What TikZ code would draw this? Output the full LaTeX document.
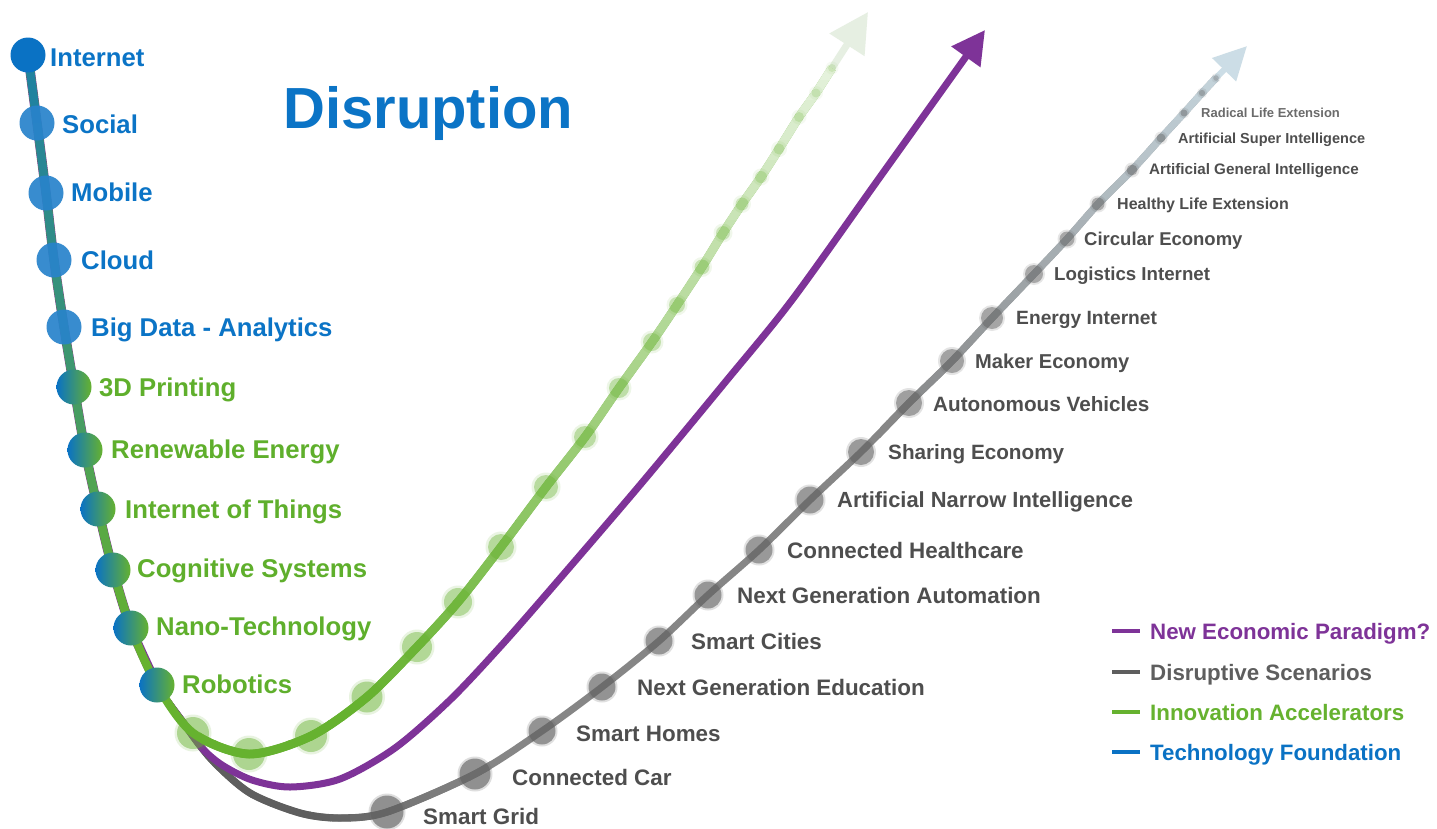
\documentclass[tikz,border=0pt]{standalone}
\usepackage{fontspec}
\setmainfont{Liberation Sans}
\usetikzlibrary{arrows.meta}

\definecolor{techblue}{HTML}{0A72C4}
\definecolor{accgreen}{HTML}{66B22F}
\definecolor{paradigm}{HTML}{7E3398}
\definecolor{scengray}{HTML}{5E5E5E}
\definecolor{midgray}{HTML}{868686}
\definecolor{paleblue}{HTML}{CCDDE6}
\definecolor{greenhead}{HTML}{E6EFE2}
\definecolor{labelgray}{HTML}{4E4E4E}
\definecolor{labelblue}{HTML}{0B74C6}
\definecolor{labelgreen}{HTML}{5FAF2C}

\tikzset{
  lab/.style={anchor=base west, inner sep=0pt},
  foundlab/.style={lab, font=\bfseries\fontsize{25.7}{26}\selectfont},
  scenlab/.style={lab, text=labelgray},
  leglab/.style={lab, font=\bfseries\fontsize{22.3}{23}\selectfont},
}

% the three curves, all through the foundation dots
\newcommand\trunkpts{(inet) (social) (mobile) (cloud) (bigdata) (print) (renew) (iot) (cogn) (nano) (robot)}
\newcommand\greenpath{plot[smooth] coordinates {(inet) (social) (mobile) (cloud) (bigdata) (print) (renew) (iot) (cogn) (nano) (robot) (g1) (g2) (g3) (g4) (g5) (g6) (g7) (g8) (g9) (g10) (g11) (g12) (g13) (g14) (g15) (g16) (g17) (g18) (g19) (g20)}}
\newcommand\graypath{plot[smooth] coordinates {(inet) (social) (mobile) (cloud) (bigdata) (print) (renew) (iot) (cogn) (nano) (robot) (q1) (q2) (q3) (q4) (q5) (grid) (car) (homes) (edu) (cities) (autom) (health) (narrow) (sharing) (autonomous) (maker) (energy) (logist) (circ) (healthy) (agi) (asi) (radical) (q6) (q7)}}

% name/x/y/radius/opacity
\newcommand\greendots{g1/193/733/16/.45, g2/249/754/16/.45, g3/311/736/16/.45, g4/367/697/15.5/.45, g5/417/647/15/.42, g6/458/602/14/.4, g7/501/547/13/.4, g8/546/487/12/.38, g9/585/437/11/.36, g10/619/388/10/.34, g11/652/342/9/.32, g12/677/305/8/.3, g13/702/267/7.5/.3, g14/723/233/7/.28, g15/742/204/6.5/.26, g16/761/177/6/.24, g17/779/149/5.5/.22, g18/799/117/5/.2, g19/816/93/4.5/.18, g20/832/68/4/.16}
\newcommand\graydots{grid/387/812/16.5/.62, car/475/774/15.5/.62, homes/542/731/13.5/.6, edu/602/687/13.5/.6, cities/659/641/13.5/.58, autom/708/595/13.5/.58, health/759/550/13.5/.56, narrow/810/500/13.5/.56, sharing/861/452/13/.55, autonomous/909/403/13/.52, maker/952/361/12/.5, energy/992/318/11/.48, logist/1034/274/9/.46, circ/1067/239/7.5/.46, healthy/1098/204/6.5/.45, agi/1132/170/5.5/.45, asi/1161/138/4.5/.42, radical/1184/113/3.5/.4, q6/1202/93/3.2/.35, q7/1216/78/2.8/.3}

\begin{document}
\begin{tikzpicture}[x=1pt,y=-1pt]
\useasboundingbox (0,0) rectangle (1437,828);
\fill[white] (0,0) rectangle (1437,828);

\foreach \nm/\x/\y in {inet/28/55, social/37/123, mobile/46/193, cloud/54/260, bigdata/64/327, print/74/387, renew/85/450, iot/98/509, cogn/113/570, nano/131/628, robot/157/685}
  \coordinate (\nm) at (\x,\y);
\foreach \nm/\x/\y/\r/\o in \greendots
  \coordinate (\nm) at (\x,\y);
\foreach \nm/\x/\y/\r/\o in \graydots
  \coordinate (\nm) at (\x,\y);
\foreach \nm/\x/\y in {q1/185/725, q2/212/760, q3/250/793, q4/300/813, q5/340/818, p1/183/722, p2/202/748, p3/222/765, p4/252/780, p5/290/787, p6/340/779, p7/395/748, p8/450/700, p9/500/647, p10/550/590, p11/640/485, p12/727/380, p13/792/300, p14/880/177}
  \coordinate (\nm) at (\x,\y);
\coordinate (gtip) at (868,12);
\coordinate (ptip) at (985,30);
\coordinate (qtip) at (1247,46);

% disruptive scenarios
\draw[midgray, line width=7] \graypath;
\foreach \xb in {170,190,...,470} {
  \pgfmathsetmacro\dp{max(0,min(100,(470-\xb)/1.7))}
  \begin{scope}
    \clip (\xb,700) rectangle ({\xb+20.6},828);
    \draw[scengray!\dp!midgray, line width=7.3] \graypath;
  \end{scope}
}
\foreach \yb in {20,40,...,420} {
  \pgfmathsetmacro\dp{max(0,min(100,(\yb-30)/3.8))}
  \begin{scope}
    \clip (880,\yb) rectangle (1437,{\yb+20.6});
    \draw[midgray!\dp!paleblue, line width=7.3] \graypath;
  \end{scope}
}
\draw[paleblue, line width=6, -{Triangle[length=33pt,width=32pt]}] (q7) -- (qtip);

% new economic paradigm
\draw[paradigm, line width=9.5] plot[smooth] coordinates {\trunkpts};
\draw[paradigm, line width=7, -{Triangle[length=33pt,width=34pt]}] plot[smooth] coordinates {(inet) (social) (mobile) (cloud) (bigdata) (print) (renew) (iot) (cogn) (nano) (robot) (p1) (p2) (p3) (p4) (p5) (p6) (p7) (p8) (p9) (p10) (p11) (p12) (p13) (p14) (ptip)};

% innovation accelerators
\draw[accgreen, line width=8.5] \greenpath;
\foreach \yb in {0,20,...,740} {
  \pgfmathsetmacro\gp{max(12,min(100,100-(700-\yb)*0.13))}
  \begin{scope}
    \clip (200,\yb) rectangle (1437,{\yb+20.6});
    \draw[accgreen!\gp!white, line width=8.8] \greenpath;
  \end{scope}
}
\draw[greenhead, line width=7, -{Triangle[length=39pt,width=40pt]}] (g20) -- (gtip);

% technology foundation over the trunk
\foreach \ya/\yb/\o in {55/123/75, 123/193/68, 193/260/60, 260/327/52, 327/387/44, 387/450/34, 450/509/24, 509/570/14, 570/628/6} {
  \begin{scope}
    \clip (0,\ya) rectangle (200,{\yb+0.6});
    \draw[techblue!\o!accgreen, line width=8.5] \greenpath;
  \end{scope}
}

% dots, with a soft rim
\foreach \nm/\x/\y/\r/\o in \graydots {
  \pgfmathsetmacro\rim{\o/3}
  \fill[black!62, opacity=\rim] (\nm) circle ({\r+2});
  \fill[black!62, opacity=\o] (\nm) circle (\r);
}
\foreach \nm/\x/\y/\r/\o in \greendots {
  \pgfmathsetmacro\rim{\o/3}
  \fill[accgreen, opacity=\rim] (\nm) circle ({\r+2.5});
  \fill[accgreen, opacity=\o] (\nm) circle (\r);
}
\fill[techblue] (inet) circle (17.5);
\foreach \nm in {social,mobile,cloud,bigdata}
  \fill[techblue!88!white, opacity=0.92] (\nm) circle (17.5);
\foreach \nm in {print,renew,iot,cogn,nano,robot}
  \shade[left color=techblue, right color=accgreen] (\nm) circle (17.5);

% labels
\node[lab, text=labelblue, font=\bfseries\fontsize{58}{60}\selectfont] (title) at (283,128) {Disruption};
\foreach \nm/\x/\y/\c/\t in {inet/50/57/labelblue/Internet, social/62/124/labelblue/Social, mobile/71/192/labelblue/Mobile, cloud/81/260/labelblue/Cloud, bigdata/91/327/labelblue/Big Data - Analytics, print/99/387/labelgreen/3D Printing, renew/111/449/labelgreen/Renewable Energy, iot/125/509/labelgreen/Internet of Things, cogn/137/568/labelgreen/Cognitive Systems, nano/156/626/labelgreen/Nano-Technology, robot/182/684/labelgreen/Robotics}
  \node[foundlab, text=\c] (l\nm) at (\x,{\y+9.2}) {\t};
\foreach \nm/\x/\y/\s/\t in {grid/423/816/22.4/Smart Grid, car/512/777/22.4/Connected Car, homes/576/733/22.4/Smart Homes, edu/637/687/22.4/Next Generation Education, cities/691/641/22.4/Smart Cities, autom/737/595/22.4/Next Generation Automation, health/787/550/22.4/Connected Healthcare, narrow/837/500/21.9/Artificial Narrow Intelligence, sharing/888/452/20.7/Sharing Economy, autonomous/933/404/20.7/Autonomous Vehicles, maker/975/361/20.1/Maker Economy, energy/1016/318/19.2/Energy Internet, logist/1054/274/18.7/Logistics Internet, circ/1084/239/18.5/Circular Economy, healthy/1117/204/16/Healthy Life Extension, agi/1149/169/15.2/Artificial General Intelligence, asi/1178/138/14.5/Artificial Super Intelligence}
  \node[scenlab, font=\bfseries\fontsize{\s}{\s}\selectfont] (l\nm) at (\x,{\y+0.358*\s}) {\t};
\node[lab, text=black!58, font=\bfseries\fontsize{13}{13}\selectfont] (lradical) at (1201,117.6) {Radical Life Extension};

% legend
\foreach \nm/\y/\c/\t in {paradigm/631/paradigm/New Economic Paradigm?, scen/672/scengray/Disruptive Scenarios, accel/712/accgreen/Innovation Accelerators, found/752/techblue/Technology Foundation} {
  \coordinate (k\nm) at (1112,\y);
  \coordinate (e\nm) at (1140,\y);
  \draw[\c, line width=4.5] (k\nm) -- (e\nm);
  \node[leglab, text=\c] (t\nm) at (1150,{\y+8}) {\t};
}
\end{tikzpicture}
\end{document}
